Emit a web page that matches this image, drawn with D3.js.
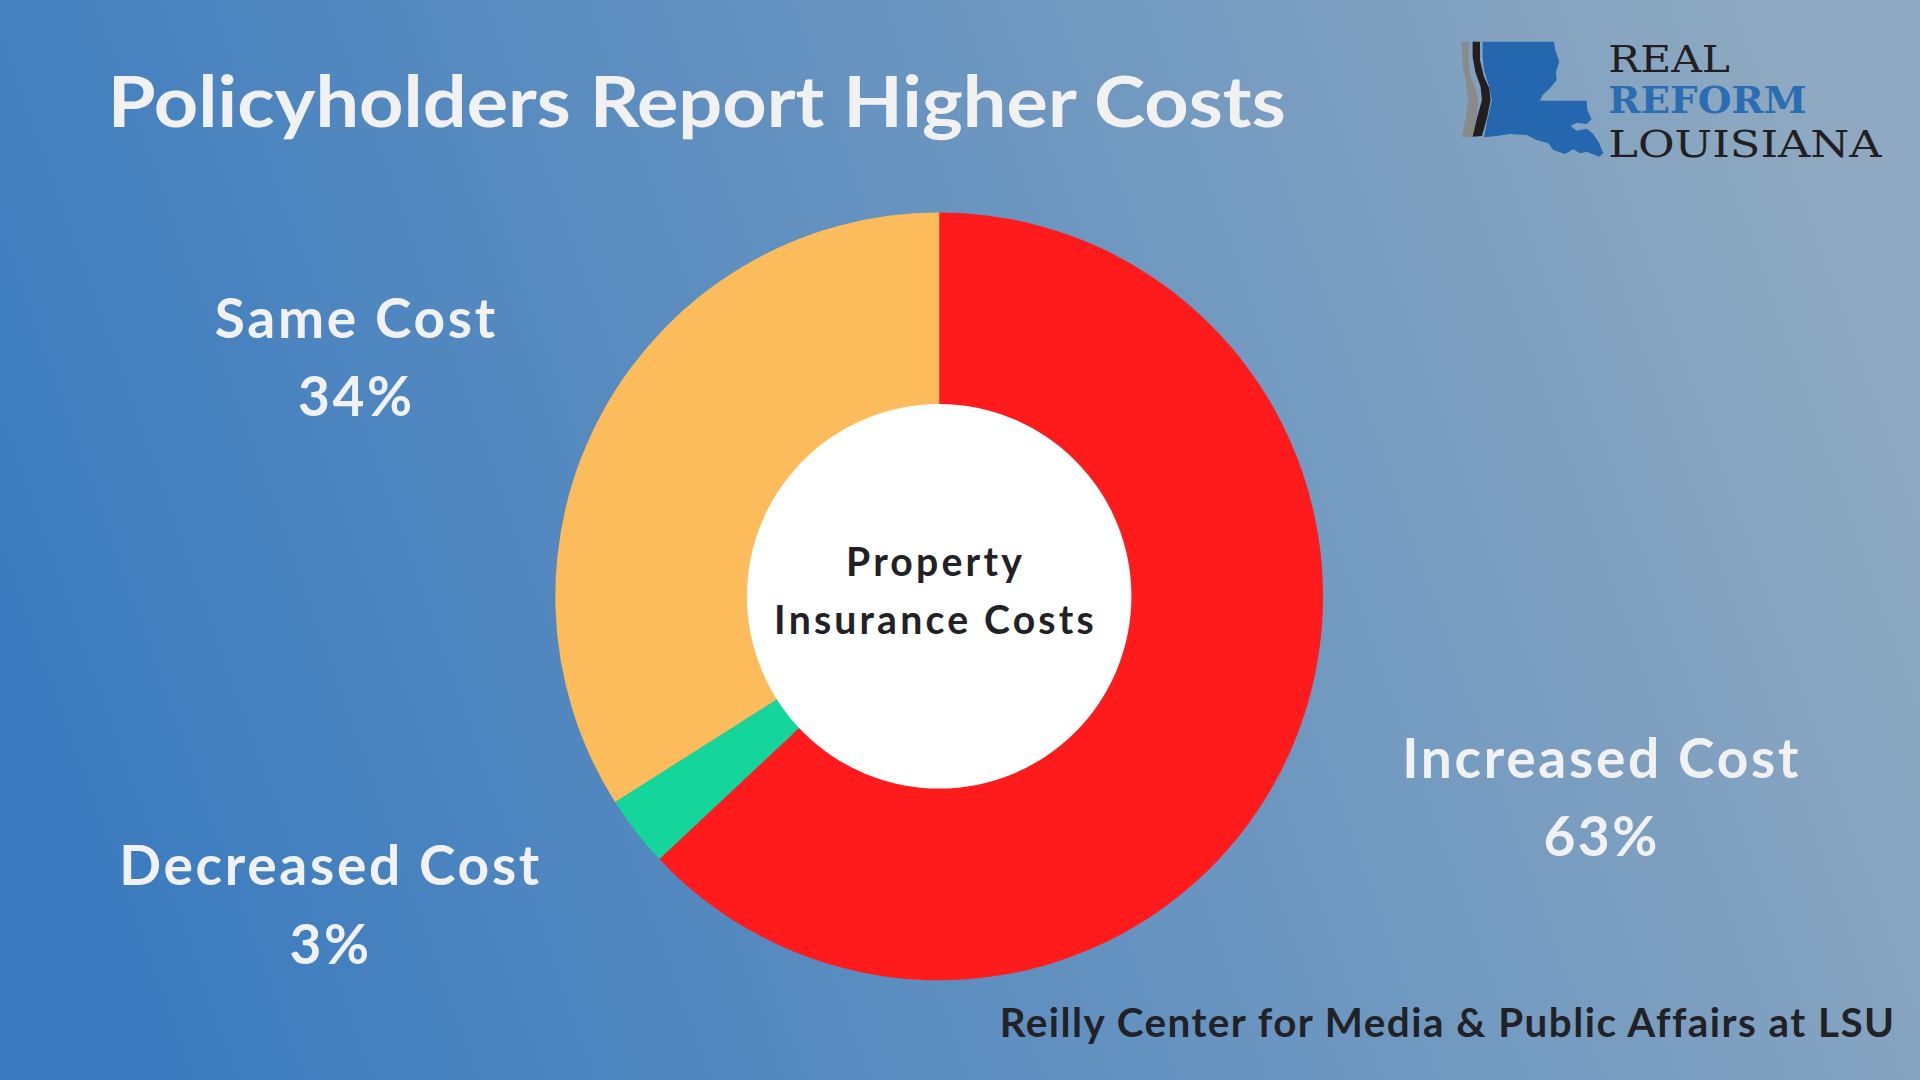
<!DOCTYPE html>
<html>
<head>
<meta charset="utf-8">
<script src="https://cdn.jsdelivr.net/npm/d3@7"></script>
<style>
  html, body { margin: 0; padding: 0; overflow: hidden; }
  svg { display: block; }
</style>
</head>
<body>
<svg id="chart" width="1920" height="1080" viewBox="0 0 1568 882"></svg>
<script>
// data
const categories = ['Increased Cost', 'Decreased Cost', 'Same Cost'];
const shares = [63, 3, 34];
const sliceColors = ['#ff1a1c', '#14d69a', '#fdbc5c'];
const titleText = 'Policyholders Report Higher Costs';
const centerLines = ['Property', 'Insurance Costs'];
const sourceText = 'Reilly Center for Media & Public Affairs at LSU';

const rows = categories.map((c, i) => ({ name: c, value: shares[i], color: sliceColors[i] }));

// layout
const labelPos = {
  'Increased Cost': { x: 1308, y: 635 },
  'Decreased Cost': { x: 270, y: 723 },
  'Same Cost': { x: 291, y: 276 }
};
const cx = 767, cy = 487;
const outerR = 313.5, innerR = 156.5;

const svg = d3.select('#chart');
const font = 'Lato, "Open Sans", sans-serif';

const defs = svg.append('defs');
const grad = defs.append('linearGradient')
  .attr('id', 'bg')
  .attr('x1', '0').attr('y1', '0.6')
  .attr('x2', '1').attr('y2', '0.4');
grad.append('stop').attr('offset', '0%').attr('stop-color', '#3a7bbf');
grad.append('stop').attr('offset', '100%').attr('stop-color', '#8ea9c1');

svg.append('rect')
  .attr('width', 1568).attr('height', 882)
  .attr('fill', 'url(#bg)');

// title
svg.append('text')
  .attr('x', 88).attr('y', 104)
  .attr('textLength', 962)
  .attr('lengthAdjust', 'spacingAndGlyphs')
  .style('font-family', font)
  .style('font-weight', 700)
  .style('font-size', '58px')
  .attr('fill', '#f1f1f1')
  .text(titleText);

// donut
const pie = d3.pie().sort(null).value(d => d.value);
const arc = d3.arc().innerRadius(innerR).outerRadius(outerR);

const g = svg.append('g').attr('transform', 'translate(' + cx + ',' + cy + ')');

g.selectAll('path.slice')
  .data(pie(rows))
  .join('path')
  .attr('class', 'slice')
  .attr('d', arc)
  .attr('fill', d => d.data.color);

g.append('circle').attr('r', innerR + 0.5).attr('fill', '#ffffff');

g.selectAll('text.center')
  .data(centerLines)
  .join('text')
  .attr('class', 'center')
  .attr('x', -3)
  .attr('y', (d, i) => -17 + i * 47.5)
  .attr('text-anchor', 'middle')
  .style('font-family', font)
  .style('font-weight', 700)
  .style('font-size', '32px')
  .style('letter-spacing', '2.6px')
  .attr('fill', '#222226')
  .text(d => d);

// slice labels
const labels = svg.selectAll('g.lbl')
  .data(rows)
  .join('g')
  .attr('class', 'lbl')
  .attr('transform', d => 'translate(' + labelPos[d.name].x + ',' + labelPos[d.name].y + ')');

labels.append('text')
  .attr('text-anchor', 'middle')
  .style('font-family', font)
  .style('font-weight', 700)
  .style('font-size', '45px')
  .style('letter-spacing', '2.2px')
  .attr('fill', '#f1f1f1')
  .text(d => d.name);

labels.append('text')
  .attr('y', 64)
  .attr('text-anchor', 'middle')
  .style('font-family', font)
  .style('font-weight', 700)
  .style('font-size', '45px')
  .style('letter-spacing', '2px')
  .attr('fill', '#f1f1f1')
  .text(d => d.value + '%');

// source
svg.append('text')
  .attr('x', 1548).attr('y', 847)
  .attr('text-anchor', 'end')
  .style('font-family', font)
  .style('font-weight', 700)
  .style('font-size', '33px')
  .style('letter-spacing', '1.2px')
  .attr('fill', '#222226')
  .text(sourceText);

// logo (drawn in zoomed-crop pixel units)
const logo = svg.append('g').attr('transform', 'translate(1143.3,0) scale(0.27222)');

logo.append('path')
  .attr('fill', '#8a8a8a')
  .attr('d', 'M185,125 L207,125 L206,180 L212,230 L228,270 L236,300 L230,350 L222,410 L186,412 L198,350 L205,300 L198,250 L188,200 Z');
logo.append('path')
  .attr('fill', '#231f20')
  .attr('d', 'M218,125 L240,125 L240,180 L252,230 L268,265 L272,300 L262,350 L246,408 L218,410 L232,350 L246,300 L242,260 L226,215 L218,170 Z');
logo.append('path')
  .attr('fill', '#2467ae')
  .attr('d', 'M248,125 L462,125 L466,150 L478,185 L468,215 L470,240 L450,265 L428,285 L420,302 L560,302 L562,330 L575,358 L560,372 L530,368 L512,378 L530,392 L560,386 L578,400 L598,430 L610,460 L598,470 L560,455 L540,460 L520,448 L495,462 L460,450 L445,430 L410,420 L380,405 L330,402 L290,408 L252,412 L262,360 L276,300 L266,255 L252,210 L248,170 Z');

const logoText = [
  { t: 'REAL', y: 215, len: 365, w: 400, c: '#231f20' },
  { t: 'REFORM', y: 340, len: 595, w: 700, c: '#2a6db3' },
  { t: 'LOUISIANA', y: 470, len: 820, w: 400, c: '#231f20' }
];
logo.selectAll('text.logo')
  .data(logoText)
  .join('text')
  .attr('class', 'logo')
  .attr('x', 625)
  .attr('y', d => d.y)
  .attr('textLength', d => d.len)
  .attr('lengthAdjust', 'spacingAndGlyphs')
  .style('font-family', '"DejaVu Serif", "Liberation Serif", serif')
  .style('font-weight', d => d.w)
  .style('font-size', '112px')
  .attr('fill', d => d.c)
  .text(d => d.t);
</script>
</body>
</html>
